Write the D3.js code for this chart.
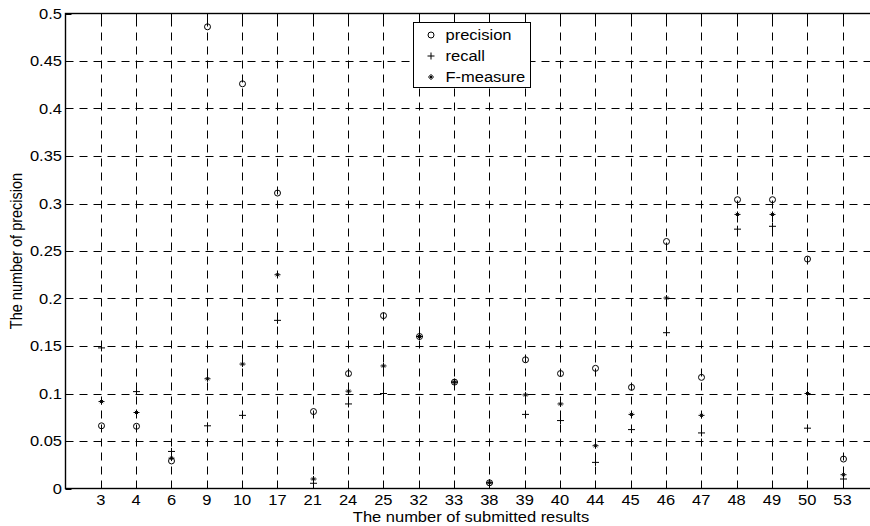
<!DOCTYPE html>
<html>
<head>
<meta charset="utf-8">
<script src="https://cdn.jsdelivr.net/npm/d3@7"></script>
<style>
  html, body { margin: 0; padding: 0; background: #fff; }
  svg { display: block; }
  text { font-family: "Liberation Sans", Arial, Helvetica, sans-serif; fill: #000; }
</style>
</head>
<body>
<svg id="chart" width="870" height="526"></svg>
<script>
// Number of submitted results (one column per run)
const categories = [3, 4, 6, 9, 10, 17, 21, 24, 25, 32, 33, 38, 39, 40, 44, 45, 46, 47, 48, 49, 50, 53];

const precision = [0.066, 0.0655, 0.029, 0.486, 0.426, 0.311, 0.081, 0.121, 0.182, 0.160, 0.112, 0.006,
                   0.1355, 0.121, 0.1265, 0.1065, 0.260, 0.117, 0.304, 0.304, 0.2415, 0.031];
const recall    = [0.148, 0.102, 0.039, 0.066, 0.077, 0.177, 0.0055, 0.089, 0.100, 0.160, 0.112, 0.006,
                   0.078, 0.0715, 0.0275, 0.062, 0.164, 0.0585, 0.273, 0.276, 0.0635, 0.010];
const fmeasure  = [0.0915, 0.080, 0.032, 0.1155, 0.131, 0.225, 0.010, 0.1025, 0.129, 0.160, 0.112, 0.006,
                   0.0985, 0.089, 0.045, 0.078, 0.2005, 0.077, 0.2885, 0.2885, 0.100, 0.0145];

const yTicks = [0, 0.05, 0.1, 0.15, 0.2, 0.25, 0.3, 0.35, 0.4, 0.45, 0.5];
const yTickLabels = ["0", "0.05", "0.1", "0.15", "0.2", "0.25", "0.3", "0.35", "0.4", "0.45", "0.5"];

const seriesNames = ["precision", "recall", "F-measure"];

const xLabel = "The number of submitted results";
const yLabel = "The number of precision";

// ---- geometry ----
const svg = d3.select("#chart");
const plotLeft = 65.5, plotTop = 13.5, plotBottom = 488.5;
const step = 35.32;
const plotRight = plotLeft + step * (categories.length + 1);

const x = d3.scaleLinear().domain([-1, categories.length]).range([plotLeft, plotRight]);
const y = d3.scaleLinear().domain([0, 0.5]).range([plotBottom, plotTop]);
const px = i => Math.round(x(i)) + 0.5;

// text is set slightly wide, like the exported figure's lettering
const FS = 15, WIDEN = 1.1;
const label = (g, tx, ty, str, anchor) => g.append("text")
  .attr("transform", `translate(${tx},${ty}) scale(${WIDEN},1)`)
  .attr("font-size", FS).attr("text-anchor", anchor || "start").text(str);

svg.append("defs").append("clipPath").attr("id", "plotclip")
  .append("rect").attr("x", plotLeft).attr("y", plotTop)
  .attr("width", plotRight - plotLeft).attr("height", plotBottom - plotTop);

// ---- grid ----
const grid = svg.append("g").attr("stroke", "#000").attr("stroke-width", 1)
  .attr("stroke-dasharray", "8,6").attr("fill", "none");

yTicks.slice(1, -1).forEach(v => {
  const yy = Math.round(y(v)) + 0.5;
  grid.append("line").attr("x1", plotLeft).attr("x2", plotRight).attr("y1", yy).attr("y2", yy);
});
categories.forEach((c, i) => {
  grid.append("line").attr("x1", px(i)).attr("x2", px(i))
    .attr("y1", plotBottom).attr("y2", plotTop);
});

// ---- ticks (inside, on all four sides) ----
const tk = svg.append("g").attr("stroke", "#000").attr("stroke-width", 1);
const tl = 6;
yTicks.forEach(v => {
  const yy = Math.round(y(v)) + 0.5;
  tk.append("line").attr("x1", plotLeft).attr("x2", plotLeft + tl).attr("y1", yy).attr("y2", yy);
});
categories.forEach((c, i) => {
  tk.append("line").attr("x1", px(i)).attr("x2", px(i)).attr("y1", plotBottom).attr("y2", plotBottom - tl);
  tk.append("line").attr("x1", px(i)).attr("x2", px(i)).attr("y1", plotTop).attr("y2", plotTop + tl);
});

// ---- axes box ----
svg.append("rect").attr("x", plotLeft).attr("y", plotTop)
  .attr("width", plotRight - plotLeft).attr("height", plotBottom - plotTop)
  .attr("fill", "none").attr("stroke", "#000").attr("stroke-width", 1.4);

// ---- tick labels ----
const yAxisLabels = svg.append("g");
yTicks.forEach((v, i) => label(yAxisLabels, plotLeft - 3.5, y(v) + 5.3, yTickLabels[i], "end"));
const xAxisLabels = svg.append("g");
categories.forEach((c, i) => label(xAxisLabels, x(i), plotBottom + 16.5, String(c), "middle"));

// ---- axis titles ----
label(svg, 471, 522, xLabel, "middle");
svg.append("text").attr("transform", `translate(22,${(plotTop + plotBottom) / 2}) rotate(-90) scale(1,${WIDEN})`)
  .attr("font-size", 14.5).attr("text-anchor", "middle").text(yLabel);

// ---- markers ----
const circleMark = (g, cx, cy) => g.append("circle").attr("cx", cx).attr("cy", cy).attr("r", 3)
  .attr("fill", "none").attr("stroke", "#000").attr("stroke-width", 1);
const plusMark = (g, cx, cy) => g.append("path")
  .attr("d", `M${cx - 3.5},${cy}H${cx + 3.5}M${cx},${cy - 3.5}V${cy + 3.5}`)
  .attr("stroke", "#000").attr("stroke-width", 1).attr("fill", "none");
const starMark = (g, cx, cy) => g.append("path")
  .attr("d", `M${cx - 3},${cy}H${cx + 3}M${cx},${cy - 3}V${cy + 3}` +
             `M${cx - 1.6},${cy - 1.6}L${cx + 1.6},${cy + 1.6}M${cx - 1.6},${cy + 1.6}L${cx + 1.6},${cy - 1.6}`)
  .attr("stroke", "#000").attr("stroke-width", 1).attr("fill", "none");

const marks = svg.append("g").attr("clip-path", "url(#plotclip)");
categories.forEach((c, i) => circleMark(marks, px(i), y(precision[i])));
categories.forEach((c, i) => plusMark(marks, px(i), y(recall[i])));
categories.forEach((c, i) => starMark(marks, px(i), y(fmeasure[i])));

// ---- legend ----
const lg = svg.append("g");
lg.append("rect").attr("x", 413.5).attr("y", 22.5).attr("width", 117).attr("height", 65)
  .attr("fill", "#fff").attr("stroke", "#000").attr("stroke-width", 1);
const markFns = [circleMark, plusMark, starMark];
seriesNames.forEach((name, k) => {
  const cy = 35 + k * 21;
  markFns[k](lg, 431, cy);
  label(lg, 445.5, cy + 5.3, name, "start");
});
</script>
</body>
</html>
